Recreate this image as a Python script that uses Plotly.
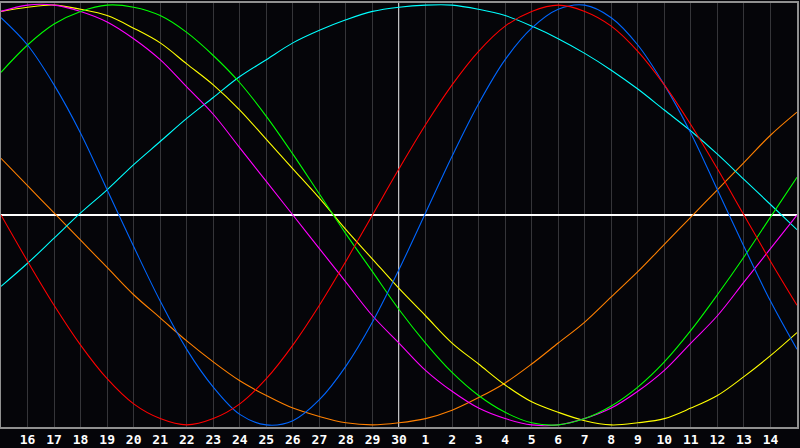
import plotly.graph_objects as go

# Day labels along the bottom (index 1..29), "30" is the centre day
day_labels = [16, 17, 18, 19, 20, 21, 22, 23, 24, 25, 26, 27, 28, 29, 30,
              1, 2, 3, 4, 5, 6, 7, 8, 9, 10, 11, 12, 13, 14]
day_index = list(range(31))

# Curve values (percent) at each day index 0..30
physical = [94, 81, 62, 39, 12, -15, -41, -64, -82, -95, -100, -98, -88, -72, -51, -26,
            1, 28, 53, 74, 89, 98, 100, 94, 81, 62, 39, 12, -15, -41, -64]
emotional = [0, -22, -43, -62, -78, -90, -97, -100, -97, -90, -78, -62, -43, -22, 0, 22,
             43, 62, 78, 90, 97, 100, 97, 90, 78, 62, 43, 22, 0, -22, -43]
intellectual = [68, 81, 91, 97, 100, 99, 95, 87, 76, 63, 47, 29, 10, -9, -27, -45,
                -61, -75, -86, -94, -99, -100, -97, -91, -82, -70, -55, -38, -20, -1, 18]
intuitive = [97, 100, 100, 97, 92, 84, 74, 61, 48, 32, 16, 0, -16, -32, -48, -61,
             -74, -84, -92, -97, -100, -100, -97, -92, -84, -74, -61, -48, -32, -16, 0]
aesthetic = [97, 99, 100, 98, 95, 89, 82, 72, 62, 50, 36, 22, 8, -7, -21, -35,
             -48, -61, -71, -81, -89, -94, -98, -100, -99, -97, -92, -86, -77, -67, -56]
awareness = [27, 14, 1, -12, -25, -38, -49, -60, -70, -79, -86, -92, -96, -99, -100, -99,
             -97, -93, -87, -80, -71, -61, -51, -39, -27, -14, -1, 12, 25, 38, 49]
spiritual = [-34, -23, -11, 1, 12, 24, 35, 46, 56, 66, 74, 82, 88, 93, 97, 99,
             100, 100, 98, 95, 90, 84, 77, 69, 60, 50, 40, 29, 17, 5, -7]

series = [
    ('Awareness', awareness, '#ff8000'),
    ('Spiritual', spiritual, '#00ffff'),
    ('Aesthetic', aesthetic, '#ffff00'),
    ('Intuitive', intuitive, '#ff00ff'),
    ('Intellectual', intellectual, '#00ff00'),
    ('Physical', physical, '#0066ff'),
    ('Emotional', emotional, '#ff0000'),
]

fig = go.Figure()

for name, values, color in series:
    fig.add_trace(go.Scatter(x=day_index, y=values, mode='lines', name=name,
                             line=dict(color=color, width=1.1, shape='spline'),
                             hoverinfo='skip'))

# White marker line on the current day
today = day_labels.index(30) + 1
fig.add_vline(x=today, line_color='white', line_width=1.5, layer='below')

fig.update_layout(
    width=800, height=448,
    margin=dict(l=1, r=1, t=1, b=20),
    paper_bgcolor='#050509',
    plot_bgcolor='#050509',
    showlegend=False,
    xaxis=dict(range=[0, 30], tickvals=list(range(1, 30)), ticktext=[str(d) for d in day_labels],
               showgrid=True, gridcolor='#353539', gridwidth=1,
               zeroline=False, showline=True, mirror=True, linecolor='#909090', linewidth=1.5,
               ticks='', tickfont=dict(family='DejaVu Sans Mono', size=13, color='white', weight='bold')),
    yaxis=dict(range=[-101, 101], showgrid=False, showticklabels=False, ticks='',
               zeroline=True, zerolinecolor='white', zerolinewidth=1.5,
               showline=True, mirror=True, linecolor='#909090', linewidth=1.5),
)

# drop the default body margin so the 800x448 figure fills the window
fig.write_html("out.html", config={'displayModeBar': False},
               post_script="document.body.style.margin='0';")
